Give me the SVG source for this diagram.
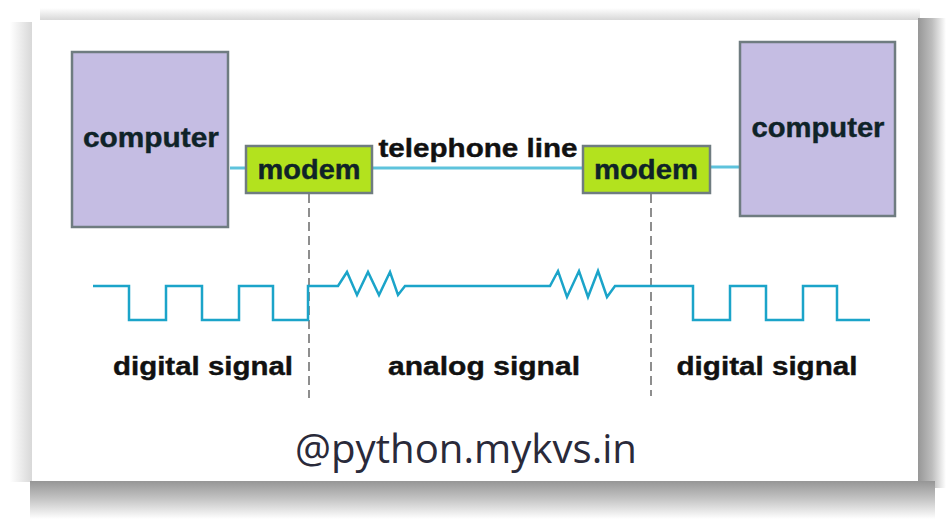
<svg xmlns="http://www.w3.org/2000/svg" width="951" height="523" viewBox="0 0 951 523">
  <defs>
    <linearGradient id="shR" x1="0" y1="0" x2="1" y2="0">
      <stop offset="0" stop-color="#979797"/>
      <stop offset="0.5" stop-color="#bdbdbd"/>
      <stop offset="1" stop-color="#ffffff"/>
    </linearGradient>
    <linearGradient id="shB" x1="0" y1="0" x2="0" y2="1">
      <stop offset="0" stop-color="#969696"/>
      <stop offset="0.45" stop-color="#c2c2c2"/>
      <stop offset="1" stop-color="#ffffff"/>
    </linearGradient>
    <linearGradient id="shT" x1="0" y1="0" x2="0" y2="1">
      <stop offset="0" stop-color="#ffffff"/>
      <stop offset="1" stop-color="#d8d8d8"/>
    </linearGradient>
    <linearGradient id="shL" x1="0" y1="0" x2="1" y2="0">
      <stop offset="0" stop-color="#ffffff"/>
      <stop offset="1" stop-color="#d8d8d8"/>
    </linearGradient>
  </defs>
  <style>
    .computer { fill: #c5bde3; stroke: #6f7c80; stroke-width: 2.5; }
    .modem { fill: #b3e21e; stroke: #6f7c80; stroke-width: 2.5; }
    .lbl { font-family: "Liberation Sans", Arial, sans-serif; font-weight: bold; fill: #111; stroke: #111; stroke-width: 0.4; }
    .box { font-size: 27px; fill: #0f2328; stroke: #0f2328; }
    .sig { font-size: 26px; }
    .wire { stroke: #5ec3dc; stroke-width: 3; fill: none; }
    .wave { stroke: #1ba4c9; stroke-width: 2.5; fill: none; stroke-linejoin: miter; }
    .dash { stroke: #6a6a6a; stroke-width: 1.5; stroke-dasharray: 9 5; fill: none; }
  </style>
  <rect x="0" y="0" width="951" height="523" fill="#ffffff"/>
  <!-- card shadow -->
  <rect x="40" y="8" width="880" height="12" fill="url(#shT)"/>
  <rect x="10" y="22" width="22" height="460" fill="url(#shL)"/>
  <rect x="918" y="18" width="28" height="470" fill="url(#shR)"/>
  <rect x="30" y="481" width="905" height="38" fill="url(#shB)"/>
  <rect x="32" y="20" width="886" height="461" fill="#ffffff"/>

  <g id="connectors">
    <line class="wire" x1="230" y1="168" x2="246" y2="168"/>
    <line class="wire" x1="372" y1="168" x2="583" y2="168"/>
    <line class="wire" x1="710" y1="167" x2="740" y2="167"/>
    <line class="dash" x1="309" y1="194" x2="309" y2="398"/>
    <line class="dash" x1="651" y1="194" x2="651" y2="396"/>
  </g>

  <g id="computer-left">
    <rect class="computer" x="72" y="52" width="156" height="175"/>
    <text class="lbl box" x="151" y="147" text-anchor="middle" textLength="136" lengthAdjust="spacingAndGlyphs">computer</text>
  </g>
  <g id="modem-left">
    <rect class="modem" x="246" y="146" width="126" height="47"/>
    <text class="lbl box" x="309" y="179" text-anchor="middle" textLength="103" lengthAdjust="spacingAndGlyphs">modem</text>
  </g>
  <g id="telephone-line-label">
    <text class="lbl" style="font-size:26px" x="478" y="157" text-anchor="middle" textLength="199" lengthAdjust="spacingAndGlyphs">telephone line</text>
  </g>
  <g id="modem-right">
    <rect class="modem" x="583" y="146" width="127" height="47"/>
    <text class="lbl box" x="646" y="179" text-anchor="middle" textLength="104" lengthAdjust="spacingAndGlyphs">modem</text>
  </g>
  <g id="computer-right">
    <rect class="computer" x="740" y="42" width="155" height="174"/>
    <text class="lbl box" x="818" y="137" text-anchor="middle" textLength="133" lengthAdjust="spacingAndGlyphs">computer</text>
  </g>

  <g id="signals">
    <polyline class="wave" points="93,286 129,286 129,320 166,320 166,286 202,286 202,320 239,320 239,286 273,286 273,320 308,320 308,286 338,286 347,272 357,295 368,272 379,295 390,272 398,295 405,286 550,286 558,271 567,297 579,271 588,297 598,271 607,297 615,286 693,286 693,320 730,320 730,286 766,286 766,320 803,320 803,286 837,286 837,320 870,320"/>
  </g>

  <g id="signal-labels">
    <text class="lbl sig" x="203" y="375" text-anchor="middle" textLength="180" lengthAdjust="spacingAndGlyphs">digital signal</text>
    <text class="lbl sig" x="484" y="375" text-anchor="middle" textLength="192" lengthAdjust="spacingAndGlyphs">analog signal</text>
    <text class="lbl sig" x="767" y="375" text-anchor="middle" textLength="181" lengthAdjust="spacingAndGlyphs">digital signal</text>
  </g>

  <g id="watermark">
    <text x="466" y="463" text-anchor="middle" font-family="'Open Sans', 'Noto Sans', sans-serif" font-size="40" fill="#2a2a3a" textLength="342" lengthAdjust="spacingAndGlyphs">@python.mykvs.in</text>
  </g>
</svg>
